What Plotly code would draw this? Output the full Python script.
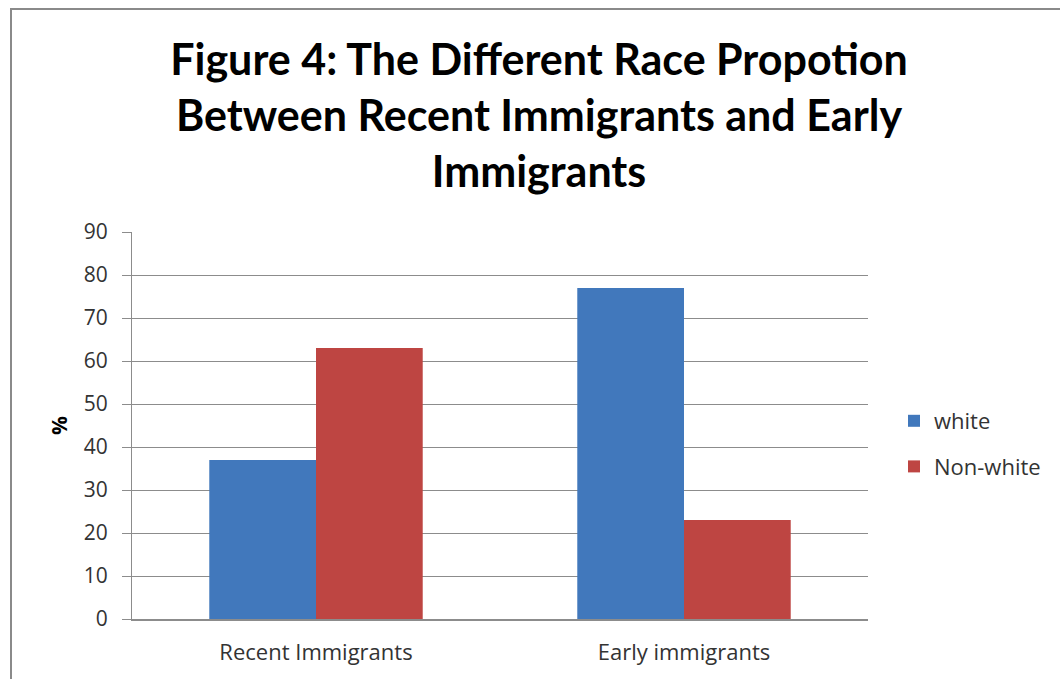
import plotly.graph_objects as go

# Share of each race group among the two immigrant cohorts (%)
categories = ["Recent Immigrants", "Early immigrants"]
white = [37, 77]
non_white = [63, 23]
y_ticks = [0, 10, 20, 30, 40, 50, 60, 70, 80, 90]

W, H = 1060, 679
L, R, T, B = 132, 192, 232, 60

TITLE_FONT = "Lato, 'Open Sans', sans-serif"
FONT = "'Open Sans', Lato, sans-serif"
TXT = "#333333"
GRID = "#8c8c8c"

fig = go.Figure()
fig.add_trace(go.Bar(name="white", x=categories, y=white, legendgroup="w",
                     marker=dict(color="#4178bc", line=dict(width=0))))
fig.add_trace(go.Bar(name="Non-white", x=categories, y=non_white, legendgroup="n",
                     marker=dict(color="#be4542", line=dict(width=0))))

plot_w = W - L - R
plot_h = H - T - B


def px_x(x):
    return (x - L) / plot_w


def px_y(y):
    return 1 - (y - T) / plot_h


fig.update_layout(
    width=W, height=H,
    margin=dict(l=L, r=R, t=T, b=B, pad=0),
    paper_bgcolor="white", plot_bgcolor="white",
    barmode="group", bargap=0.42, bargroupgap=0,
    font=dict(family=FONT, color=TXT, size=22),
    title=dict(
        text="Figure 4: The Different Race Propotion<br>Between Recent Immigrants and Early<br>Immigrants",
        x=539 / W, xref="container", xanchor="center",
        y=1 - 75 / H, yref="container", yanchor="middle",
        font=dict(family=TITLE_FONT, size=43, color="#000000", weight="bold"),
    ),
    showlegend=True,
    legend=dict(
        x=px_x(894), y=px_y(400), xanchor="left", yanchor="top",
        font=dict(family=FONT, size=22, color=TXT),
        traceorder="grouped", tracegroupgap=14, itemwidth=30,
        bgcolor="rgba(0,0,0,0)",
    ),
    xaxis=dict(
        showgrid=False, showline=True, linecolor=GRID, linewidth=1.5,
        ticks="", tickfont=dict(family=FONT, size=22, color=TXT),
        ticklabelstandoff=13,
    ),
    yaxis=dict(
        range=[0, 90], tickvals=y_ticks, showgrid=True, gridcolor=GRID,
        gridwidth=1.2, showline=True, linecolor=GRID, linewidth=1.2,
        ticks="outside", ticklen=9, tickcolor=GRID, tickwidth=1.2,
        tickfont=dict(family=FONT, size=21, color=TXT),
        zeroline=False, ticklabelstandoff=10,
        title=dict(text="<b>%</b>", standoff=10,
                   font=dict(family=FONT, size=21, color="#000000")),
    ),
    shapes=[dict(
        type="rect", xref="paper", yref="paper",
        x0=px_x(11), x1=px_x(1075), y0=px_y(700), y1=px_y(9),
        line=dict(color="#8a8a8a", width=2), fillcolor="rgba(0,0,0,0)",
        layer="below",
    )],
)

fig.write_html("out.html")
